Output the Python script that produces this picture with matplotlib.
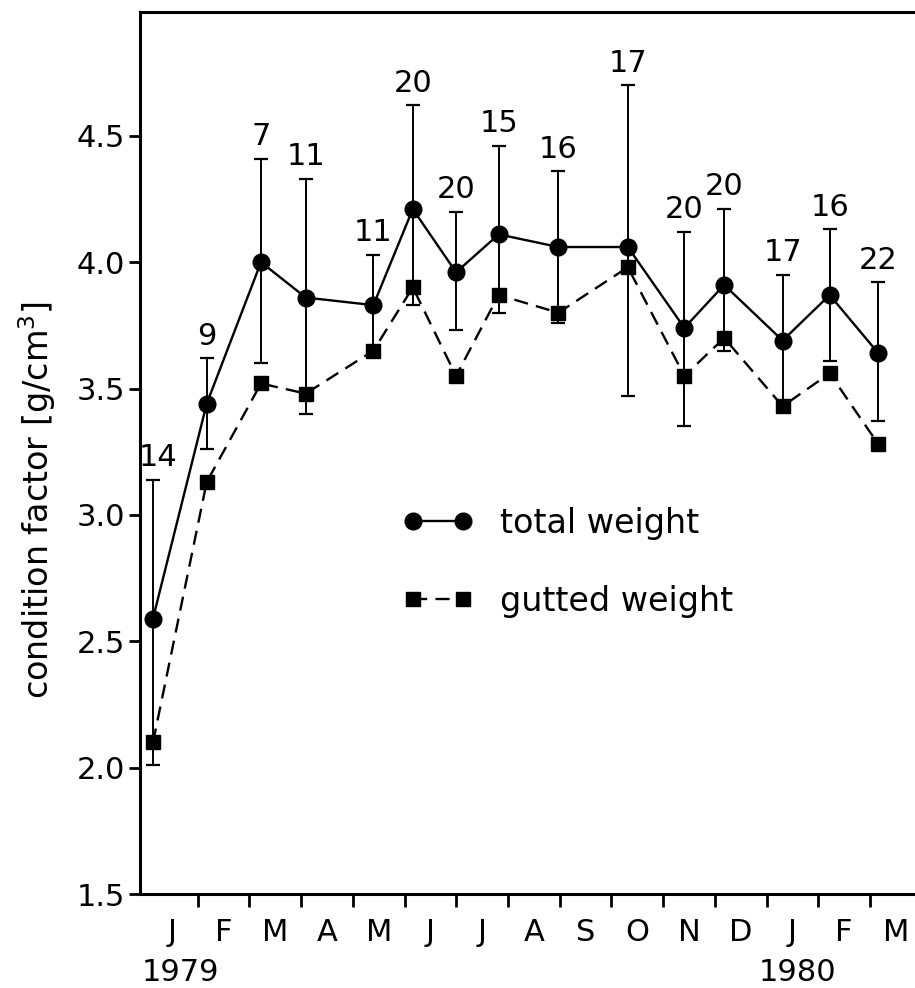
import numpy as np
import matplotlib
matplotlib.use('Agg')
import matplotlib.pyplot as plt

# sampling dates as months since 1 Jan 1979
months_x = [0.135, 1.174, 2.224, 3.089, 4.397, 5.159, 5.996, 6.82, 7.975,
            9.317, 10.41, 11.18, 12.31, 13.22, 14.16]
total = [2.59, 3.44, 4.00, 3.86, 3.83, 4.21, 3.96, 4.11, 4.06,
         4.06, 3.74, 3.91, 3.69, 3.87, 3.64]
upper = [3.14, 3.62, 4.41, 4.33, 4.03, 4.62, 4.20, 4.46, 4.36,
         4.70, 4.12, 4.21, 3.95, 4.13, 3.92]
lower = [2.01, 3.26, 3.60, 3.40, 3.63, 3.83, 3.73, 3.80, 3.76,
         3.47, 3.35, 3.65, 3.43, 3.61, 3.37]
gutted = [2.10, 3.13, 3.52, 3.48, 3.65, 3.90, 3.55, 3.87, 3.80,
          3.98, 3.55, 3.70, 3.43, 3.56, 3.28]
n_fish = [14, 9, 7, 11, 11, 20, 20, 15, 16, 17, 20, 20, 17, 16, 22]

month_labels = ['J', 'F', 'M', 'A', 'M', 'J', 'J', 'A', 'S', 'O', 'N', 'D', 'J', 'F', 'M']
years = ['1979', '1980']
year_x = [0.66, 12.6]

plt.rcParams['font.family'] = ['DejaVu Sans']
plt.rcParams['font.size'] = 22

x = np.array(months_x)
tot = np.array(total)
err = [tot - np.array(lower), np.array(upper) - tot]

fig = plt.figure(figsize=(9.15, 9.88), dpi=100)
ax = fig.add_axes([0.153, 0.0951, 0.847, 0.8928])

ax.errorbar(x, tot, yerr=err, fmt='none', ecolor='black', elinewidth=1.4,
            capsize=5, capthick=1.6, zorder=2)
ax.plot(x, tot, '-', color='black', lw=1.7, marker='o', ms=12,
        label='total weight', zorder=3)
ax.plot(x, gutted, '--', color='black', lw=1.7, marker='s', ms=10.5,
        dashes=(6, 3.5), label='gutted weight', zorder=3)

# sample sizes above the error bars (first one nudged off the axis)
for i, (xi, up, n) in enumerate(zip(x, upper, n_fish)):
    dx = 4 if i == 0 else 0
    ax.annotate(str(n), (xi, up), xytext=(dx, 5.5), textcoords='offset points',
                ha='center', va='bottom', fontsize=22)

for yr, xy in zip(years, year_x):
    ax.annotate(yr, (xy, 0), xycoords=('data', 'axes fraction'),
                xytext=(0, -78), textcoords='offset pixels',
                ha='center', va='center', fontsize=22)

ax.set_xlim(-0.116, 14.87)
ax.set_ylim(1.5, 4.99)
ax.set_yticks([1.5, 2.0, 2.5, 3.0, 3.5, 4.0, 4.5])
ax.set_yticklabels(['1.5', '2.0', '2.5', '3.0', '3.5', '4.0', '4.5'])
ax.set_xticks(np.arange(1, 15))
ax.set_xticklabels([])
ax.set_xticks(np.arange(15) + 0.5, minor=True)
ax.set_xticklabels(month_labels, minor=True)
ax.tick_params(axis='x', which='major', direction='out', length=9, width=2)
ax.tick_params(axis='x', which='minor', length=0, pad=17, labelsize=22)
ax.tick_params(axis='y', direction='out', length=8, width=2, pad=3, labelsize=22)

for s in ['left', 'bottom', 'top']:
    ax.spines[s].set_linewidth(2.2)
ax.spines['right'].set_visible(False)

ax.set_ylabel('condition factor [g/cm$^3$]', fontsize=24)
ax.yaxis.set_label_coords(-0.106, 0.447)

ax.legend(loc='upper left', bbox_to_anchor=(0.301, 0.473), frameon=False,
          numpoints=2, handlelength=2.1, handletextpad=0.8, labelspacing=1.36,
          fontsize=24)

fig.savefig('out.png', dpi=100)
